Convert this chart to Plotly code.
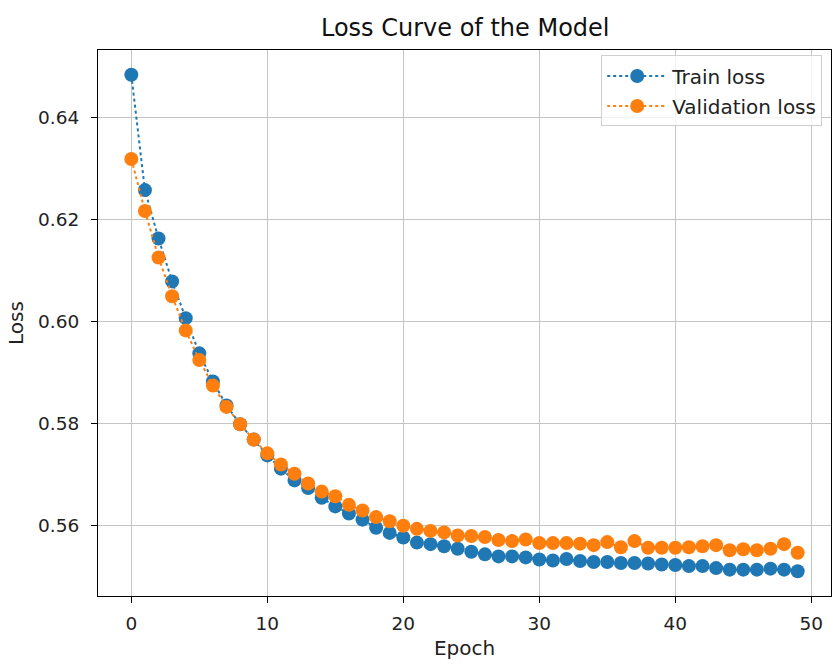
import plotly.graph_objects as go

epochs = list(range(50))
train_loss = [0.6484, 0.6258, 0.6163, 0.6079, 0.6007, 0.5938, 0.5883, 0.5836, 0.5799, 0.5769,
              0.5738, 0.5712, 0.5689, 0.5674, 0.5655, 0.5638, 0.5624, 0.5612, 0.5596, 0.5586,
              0.5577, 0.5567, 0.5564, 0.5560, 0.5555, 0.5549, 0.5544, 0.5540, 0.5540, 0.5538,
              0.5534, 0.5532, 0.5535, 0.5531, 0.5529, 0.5529, 0.5527, 0.5527, 0.5526, 0.5524,
              0.5523, 0.5521, 0.5521, 0.5517, 0.5514, 0.5514, 0.5514, 0.5516, 0.5514, 0.5511]
val_loss = [0.6319, 0.6217, 0.6126, 0.6050, 0.5983, 0.5925, 0.5875, 0.5833, 0.5799, 0.5769,
            0.5742, 0.5720, 0.5702, 0.5683, 0.5667, 0.5658, 0.5641, 0.5630, 0.5617, 0.5609,
            0.5600, 0.5594, 0.5590, 0.5587, 0.5581, 0.5580, 0.5578, 0.5572, 0.5570, 0.5573,
            0.5566, 0.5566, 0.5566, 0.5565, 0.5562, 0.5568, 0.5558, 0.5570, 0.5557, 0.5557,
            0.5557, 0.5558, 0.5560, 0.5562, 0.5552, 0.5554, 0.5552, 0.5555, 0.5564, 0.5547]
series_names = ["Train loss", "Validation loss"]
x_ticks = [0, 10, 20, 30, 40, 50]
y_ticks = [0.56, 0.58, 0.60, 0.62, 0.64]

colors = ["#1f77b4", "#ff7f0e"]
FONT = "DejaVu Sans"

fig = go.Figure()
for i, (name, ys, c) in enumerate(zip(series_names, [train_loss, val_loss], colors)):
    fig.add_trace(go.Scatter(
        x=epochs, y=ys, name=name, mode="lines+markers", legendgroup=f"g{i}",
        line=dict(color=c, width=2, dash="dot"),
        marker=dict(color=c, size=14, symbol="circle"),
    ))

allv = train_loss + val_loss
lo, hi = min(allv), max(allv)
pad = (hi - lo) * 0.05
xpad = (max(epochs) - min(epochs)) * 0.05

axis_common = dict(
    showline=True, mirror=True, linecolor="black", linewidth=1.2,
    ticks="outside", ticklen=6, tickwidth=1.2, tickcolor="black",
    showgrid=True, gridcolor="#c4c4c4", gridwidth=1.2, zeroline=False,
    tickfont=dict(family=FONT, size=18.5, color="#222"),
)

fig.update_xaxes(range=[min(epochs) - xpad, max(epochs) + xpad], tickvals=x_ticks,
                 ticklabelstandoff=5,
                 title=dict(text="Epoch", font=dict(family=FONT, size=20, color="#222"), standoff=7),
                 **axis_common)
fig.update_yaxes(range=[lo - pad, hi + pad], tickvals=y_ticks, tickformat=".2f",
                 ticklabelstandoff=8,
                 title=dict(text="Loss", font=dict(family=FONT, size=20, color="#222"), standoff=8),
                 **axis_common)

fig.update_layout(
    width=833, height=664,
    margin=dict(l=98, r=2, t=50, b=68),
    paper_bgcolor="white", plot_bgcolor="white",
    title=dict(text="Loss Curve of the Model", x=0.5585, xanchor="center",
               y=1 - 28 / 664, yanchor="middle", yref="container",
               font=dict(family=FONT, size=24, color="#111")),
    legend=dict(x=0.988, xanchor="right", y=0.99, yanchor="top",
                bgcolor="rgba(255,255,255,0.8)", bordercolor="#d0d0d0", borderwidth=1,
                font=dict(family=FONT, size=20, color="#222"),
                itemwidth=60, tracegroupgap=1),
    showlegend=True,
)

fig.write_html("out.html")
